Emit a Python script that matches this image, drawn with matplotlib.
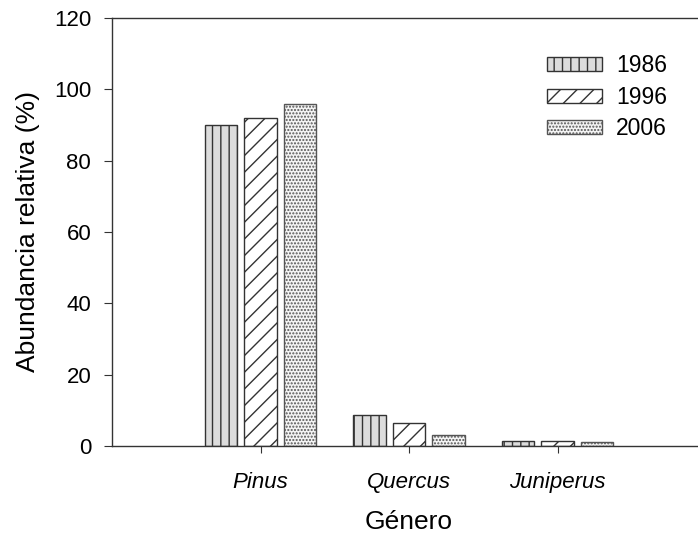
import matplotlib
matplotlib.use("Agg")
import matplotlib.pyplot as plt
import numpy as np

plt.rcParams['font.family'] = ['Liberation Sans', 'DejaVu Sans']
plt.rcParams['hatch.linewidth'] = 1.0

# Datos
generos = ['Pinus', 'Quercus', 'Juniperus']
anios = ['1986', '1996', '2006']
abund_1986 = [90.0, 8.7, 1.4]
abund_1996 = [92.0, 6.5, 1.4]
abund_2006 = [96.0, 3.1, 1.0]

fig = plt.figure(figsize=(6.98, 5.37), dpi=100)
# el eje se sale un poco por la derecha, como en el original (recortado)
ax = fig.add_axes([112 / 698, 91 / 537, 594 / 698, 428 / 537])

x = np.arange(1, len(generos) + 1)
ancho = 0.219
paso = 0.267
edge = '#333333'

ax.bar(x - paso, abund_1986, ancho, color='#dcdcdc', edgecolor=edge,
       hatch='||', linewidth=1.0, label=anios[0])
ax.bar(x, abund_1996, ancho, color='white', edgecolor=edge,
       hatch='//', linewidth=1.0, label=anios[1])
ax.bar(x + paso, abund_2006, ancho, color='#f4f4f4', edgecolor='#555555',
       hatch='.....', linewidth=1.0, label=anios[2])

ax.set_xlim(0, 4)
ax.set_ylim(0, 120)
ax.set_yticks(np.arange(0, 121, 20))
ax.set_xticks(x)
ax.set_xticklabels(generos, fontstyle='italic', fontsize=16)
ax.tick_params(axis='y', labelsize=16, length=6, pad=9, color=edge)
ax.tick_params(axis='x', length=5, pad=14, color=edge)

for s in ['left', 'bottom', 'top']:
    ax.spines[s].set_color(edge)
    ax.spines[s].set_linewidth(1.0)
ax.spines['right'].set_visible(False)

ax.set_ylabel('Abundancia relativa (%)', fontsize=19, labelpad=10)
ax.set_xlabel('Género', fontsize=19, labelpad=12)

ax.legend(loc='upper left', bbox_to_anchor=(547 / 698, 1 - 54 / 537),
          bbox_transform=fig.transFigure, frameon=False, fontsize=16.5,
          handlelength=2.4, handleheight=0.55, labelspacing=0.38,
          handletextpad=0.62, borderpad=0, borderaxespad=0)

fig.savefig('out.png', dpi=100)
